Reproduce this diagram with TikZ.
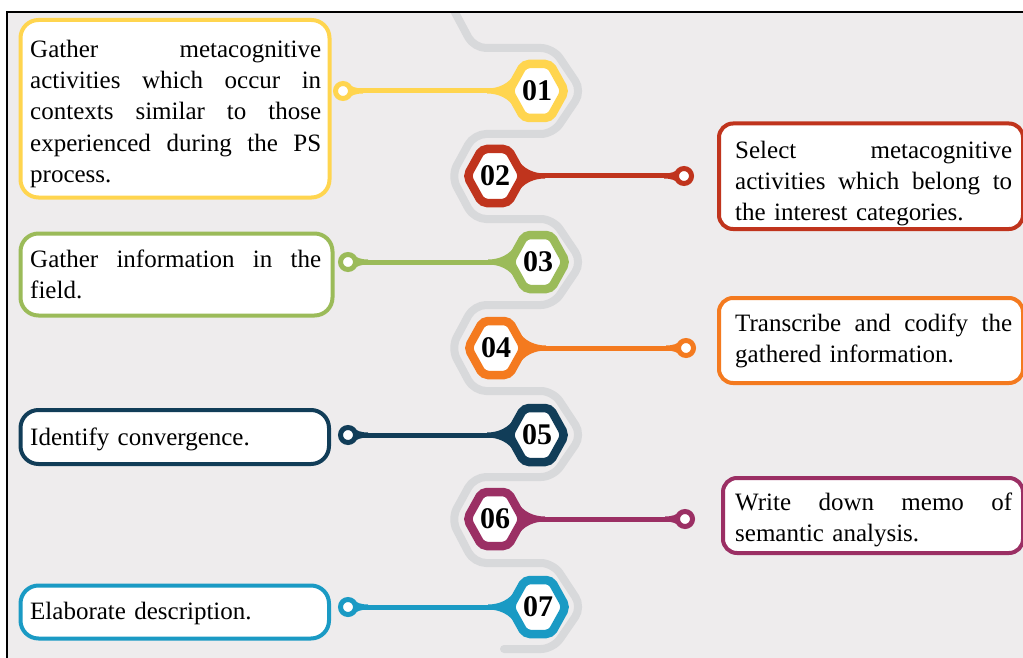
\documentclass[tikz,border=0pt]{standalone}
\usepackage{fontspec}
\setmainfont{Liberation Serif}
\usetikzlibrary{calc}
\definecolor{cyel}{HTML}{FFD54F}
\definecolor{cred}{HTML}{C0341D}
\definecolor{cgrn}{HTML}{9BBB59}
\definecolor{corg}{HTML}{F47A1F}
\definecolor{cnav}{HTML}{113D58}
\definecolor{cpur}{HTML}{9B2F64}
\definecolor{cblu}{HTML}{1A9AC4}
\definecolor{bgg}{HTML}{EEECED}
\definecolor{snk}{HTML}{D8D9DB}
\tikzset{
 box/.style={rounded corners=18pt, line width=4pt, fill=white, inner sep=0pt, anchor=north west},
 rbox/.style={box, rounded corners=14pt},
 txt/.style={inner sep=0pt, anchor=north west, align=left, font=\fontsize{25}{31.3}\selectfont},
 num/.style={inner sep=0pt, font=\fontsize{30}{30}\selectfont\bfseries},
 ring/.style={circle, line width=5pt, fill=white, minimum size=15pt, inner sep=0pt},
 link/.style={line width=5pt},
 snake/.style={draw=snk, line width=8pt, rounded corners=12pt, line cap=round},
}
\newcommand\jl[2]{\leavevmode\hbox to #1pt{\spaceskip=0.25em plus 1fil\relax #2}}
\newcommand\stepitem[7]{%
 \coordinate (#1) at (#2,#3);
 \coordinate (#1r) at (#7,#3);
 \begin{scope}[shift={(#1)}, xscale=#6]
  \coordinate (#1v) at (-28,0);
  \fill[#4] (-20,-20) .. controls (-28,-6) and (-40,-2.5) .. (-50,-2.5) -- (-50,2.5) .. controls (-40,2.5) and (-28,6) .. (-20,20) -- cycle;
 \end{scope}
 \begin{scope}[shift={(#1r)}, xscale=#6]
  \fill[#4] (4,-8) .. controls (9,-4) and (13,-2.5) .. (20,-2.5) -- (20,2.5) .. controls (13,2.5) and (9,4) .. (4,8) -- cycle;
 \end{scope}
 \node[ring, draw=#4] (#1d) at (#1r) {};
 \draw[link, #4] (#1d) -- (#1v);
 \draw[#4, line width=8.5pt, fill=white, rounded corners=5pt] ($(#1)+(-28,0)$) -- ++(15,-27) -- ++(26,0) -- ++(15,27) -- ++(-15,27) -- ++(-26,0) -- cycle;
 \node[num] (#1n) at (#1) {#5};
}
\begin{document}
\begin{tikzpicture}[x=1pt, y=-1pt]
\useasboundingbox (0,0) rectangle (1023,658);
\clip (0,0) rectangle (1023,658);
\fill[white] (0,0) rectangle (1023,658);
\fill[bgg] (7,12) rectangle (1030,670);
\begin{scope}
 \clip (8,13) rectangle (1030,670);
 \draw[snake] (451,5) -- (474,48) -- (553,48) -- (582,91) -- (553,134) -- (474,134) -- (451,176) -- (474,219) -- (553,219) -- (582,262) -- (553,305) -- (474,305) -- (451,348) -- (474,391) -- (553,391) -- (582,435) -- (553,477) -- (474,477) -- (451,519) -- (474,563) -- (553,563) -- (582,607) -- (553,649) -- (504,649);
\end{scope}
\draw[black, line width=2.2pt] (7,670) -- (7,12) -- (1030,12);

% boxes
\node[box, draw=cyel, minimum width=309pt, minimum height=177.5pt] (b1) at (18.5,18) {};
\node[rbox, draw=cred, minimum width=304pt, minimum height=105.5pt] (b2) at (717,121.5) {};
\node[box, draw=cgrn, minimum width=312pt, minimum height=82pt] (b3) at (18.5,231.5) {};
\node[rbox, draw=corg, minimum width=304pt, minimum height=85pt] (b4) at (717,296) {};
\node[box, draw=cnav, minimum width=308.5pt, minimum height=54pt] (b5) at (18.5,408) {};
\node[rbox, draw=cpur, minimum width=300pt, minimum height=75pt] (b6) at (721,476) {};
\node[box, draw=cblu, minimum width=308.5pt, minimum height=53pt] (b7) at (18.5,583.5) {};

% texts
\node[txt, text width=291pt] (t1) at (30,35.1) {\jl{291}{\strut Gather metacognitive}\\\jl{291}{activities which occur in}\\\jl{291}{contexts similar to those}\\\jl{291}{experienced during the PS}\\process.};
\node[txt, text width=277pt] (t2) at (735,136.1) {\jl{277}{\strut Select metacognitive}\\\jl{277}{activities which belong to}\\the interest categories.};
\node[txt, text width=291pt] (t3) at (30,245.1) {\jl{291}{\strut Gather information in the}\\field.};
\node[txt, text width=277pt] (t4) at (735,309.1) {\jl{277}{\strut Transcribe and codify the}\\gathered information.};
\node[txt, text width=291pt] (t5) at (30,423.1) {\strut Identify convergence.};
\node[txt, text width=277pt] (t6) at (735,488.1) {\jl{277}{\strut Write down memo of}\\semantic analysis.};
\node[txt, text width=291pt] (t7) at (30,597.1) {\strut Elaborate description.};

% steps
\stepitem{s1}{537}{91}{cyel}{01}{1}{343}
\stepitem{s2}{495}{176}{cred}{02}{-1}{684}
\stepitem{s3}{538}{262}{cgrn}{03}{1}{348}
\stepitem{s4}{496}{348}{corg}{04}{-1}{686}
\stepitem{s5}{537}{435}{cnav}{05}{1}{348}
\stepitem{s6}{495}{519}{cpur}{06}{-1}{685}
\stepitem{s7}{538}{607}{cblu}{07}{1}{348}
\end{tikzpicture}
\end{document}
